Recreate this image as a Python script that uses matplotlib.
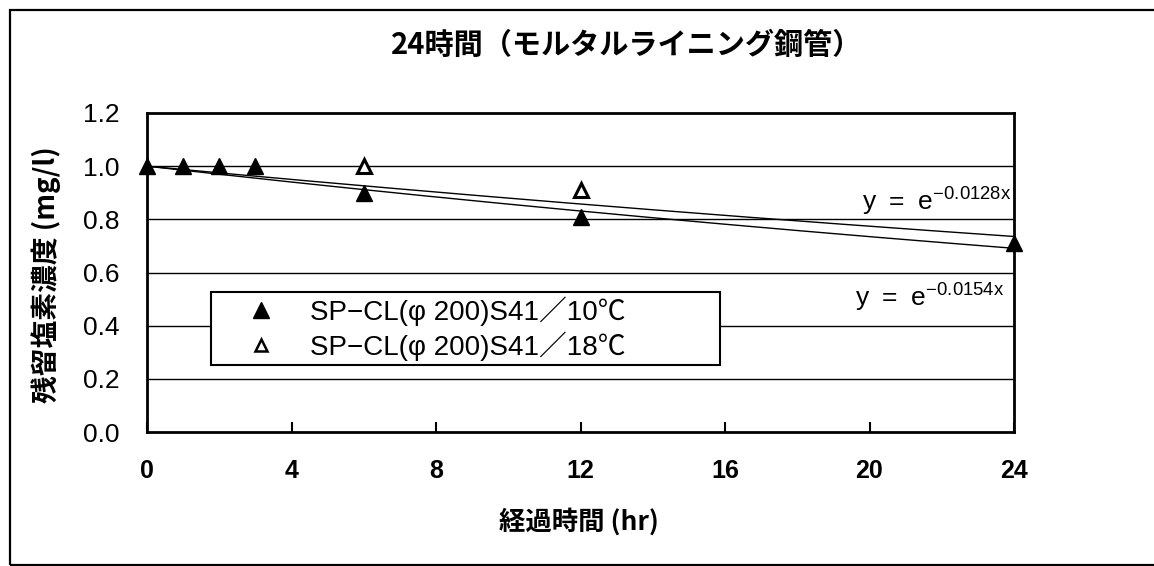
import numpy as np
import matplotlib
matplotlib.use("Agg")
import matplotlib.pyplot as plt
from matplotlib.patches import Rectangle
from matplotlib.lines import Line2D

# ---- data ----
x_10c = [0, 1, 2, 3, 6, 12, 24]
y_10c = [1.00, 1.00, 1.00, 1.00, 0.90, 0.81, 0.71]
x_18c = [6, 12]
y_18c = [1.00, 0.91]
label_10c = "SP\u2212CL(\u03c6 200)S41\uff0f10\u2103"
label_18c = "SP\u2212CL(\u03c6 200)S41\uff0f18\u2103"
trend_k = [0.0128, 0.0154]
trend_labels = ["-0.0128x", "-0.0154x"]
trend_label_pos = [(19.8, 0.832), (19.6, 0.471)]
x_ticks = [0, 4, 8, 12, 16, 20, 24]
y_ticks = [0.0, 0.2, 0.4, 0.6, 0.8, 1.0, 1.2]
title = "24時間（モルタルライニング鋼管）"
xlabel = "経過時間 (hr)"
ylabel = "残留塩素濃度 (mg/l)"

JP = ["Noto Sans CJK JP", "DejaVu Sans"]
NUM = ["Liberation Sans", "Noto Sans CJK JP", "DejaVu Sans"]

W, H = 1154, 566
fig = plt.figure(figsize=(W / 100, H / 100), dpi=100)
fig.patch.set_facecolor("white")

# outer chart frame
fig.patches.append(Rectangle((10 / W, 1 - 565 / H), (1170 - 10) / W, (565 - 10) / H,
                             transform=fig.transFigure, fill=False,
                             edgecolor="black", linewidth=1.6, zorder=0))

ax = fig.add_axes([147 / W, 1 - 432 / H, (1014 - 147) / W, (432 - 113) / H])
ax.set_xlim(0, 24)
ax.set_ylim(0, 1.2)

for v in y_ticks[1:-1]:
    ax.axhline(v, color="black", linewidth=1.0, zorder=1)

xs = np.linspace(0, 24, 200)
for k in trend_k:
    ax.plot(xs, np.exp(-k * xs), color="black", linewidth=1.0, zorder=2)

ax.plot(x_10c, y_10c, linestyle="none", marker="^", markersize=12,
        markerfacecolor="black", markeredgecolor="black", clip_on=False, zorder=4)
ax.plot(x_18c, y_18c, linestyle="none", marker="^", markersize=10,
        markerfacecolor="white", markeredgecolor="black", markeredgewidth=2.2,
        clip_on=False, zorder=4)

for (tx, ty), lab in zip(trend_label_pos, trend_labels):
    ax.text(tx, ty, r"$\mathregular{y\ =\ e^{" + lab.replace("-", "\u2212") + "}}$",
            fontsize=19, family=["Liberation Sans", "DejaVu Sans"], va="baseline",
            ha="left", zorder=5)

for s in ax.spines.values():
    s.set_linewidth(2.0)
    s.set_color("black")

ax.set_xticks(x_ticks)
ax.set_xticklabels([str(v) for v in x_ticks], family=NUM, fontsize=18, fontweight="bold")
ax.set_yticks(y_ticks)
ax.set_yticklabels([f"{v:.1f}" for v in y_ticks], family=NUM, fontsize=19)
ax.tick_params(axis="x", direction="in", length=7, width=1.5, pad=19.5)
ax.tick_params(axis="y", length=0, pad=19.5)

handles = [
    Line2D([], [], linestyle="none", marker="^", markersize=11,
           markerfacecolor="black", markeredgecolor="black"),
    Line2D([], [], linestyle="none", marker="^", markersize=8,
           markerfacecolor="white", markeredgecolor="black", markeredgewidth=1.8),
]
top_frac = 1 - (292 - 113) / 319
leg = ax.legend(handles, [label_10c, label_18c],
                loc="upper left", bbox_to_anchor=(64 / 867, top_frac - 0.1, 509 / 867, 0.1),
                mode="expand", fancybox=False, framealpha=1, edgecolor="black",
                prop={"family": NUM, "size": 20}, borderpad=0.15, labelspacing=0.2,
                handlelength=3.3, handletextpad=0.1, borderaxespad=0)
leg.get_frame().set_linewidth(1.5)
leg.set_zorder(6)

fig.text(627 / W, 1 - 45 / H, title, family=JP, fontsize=21, fontweight="bold",
         ha="center", va="center")
fig.text(579 / W, 1 - 522 / H, xlabel, family=JP, fontsize=19, fontweight="bold",
         ha="center", va="center")
fig.text(46 / W, 1 - 275 / H, ylabel, family=JP, fontsize=20, fontweight="bold",
         ha="center", va="center", rotation=90)

fig.savefig("out.png", dpi=100, facecolor="white")
